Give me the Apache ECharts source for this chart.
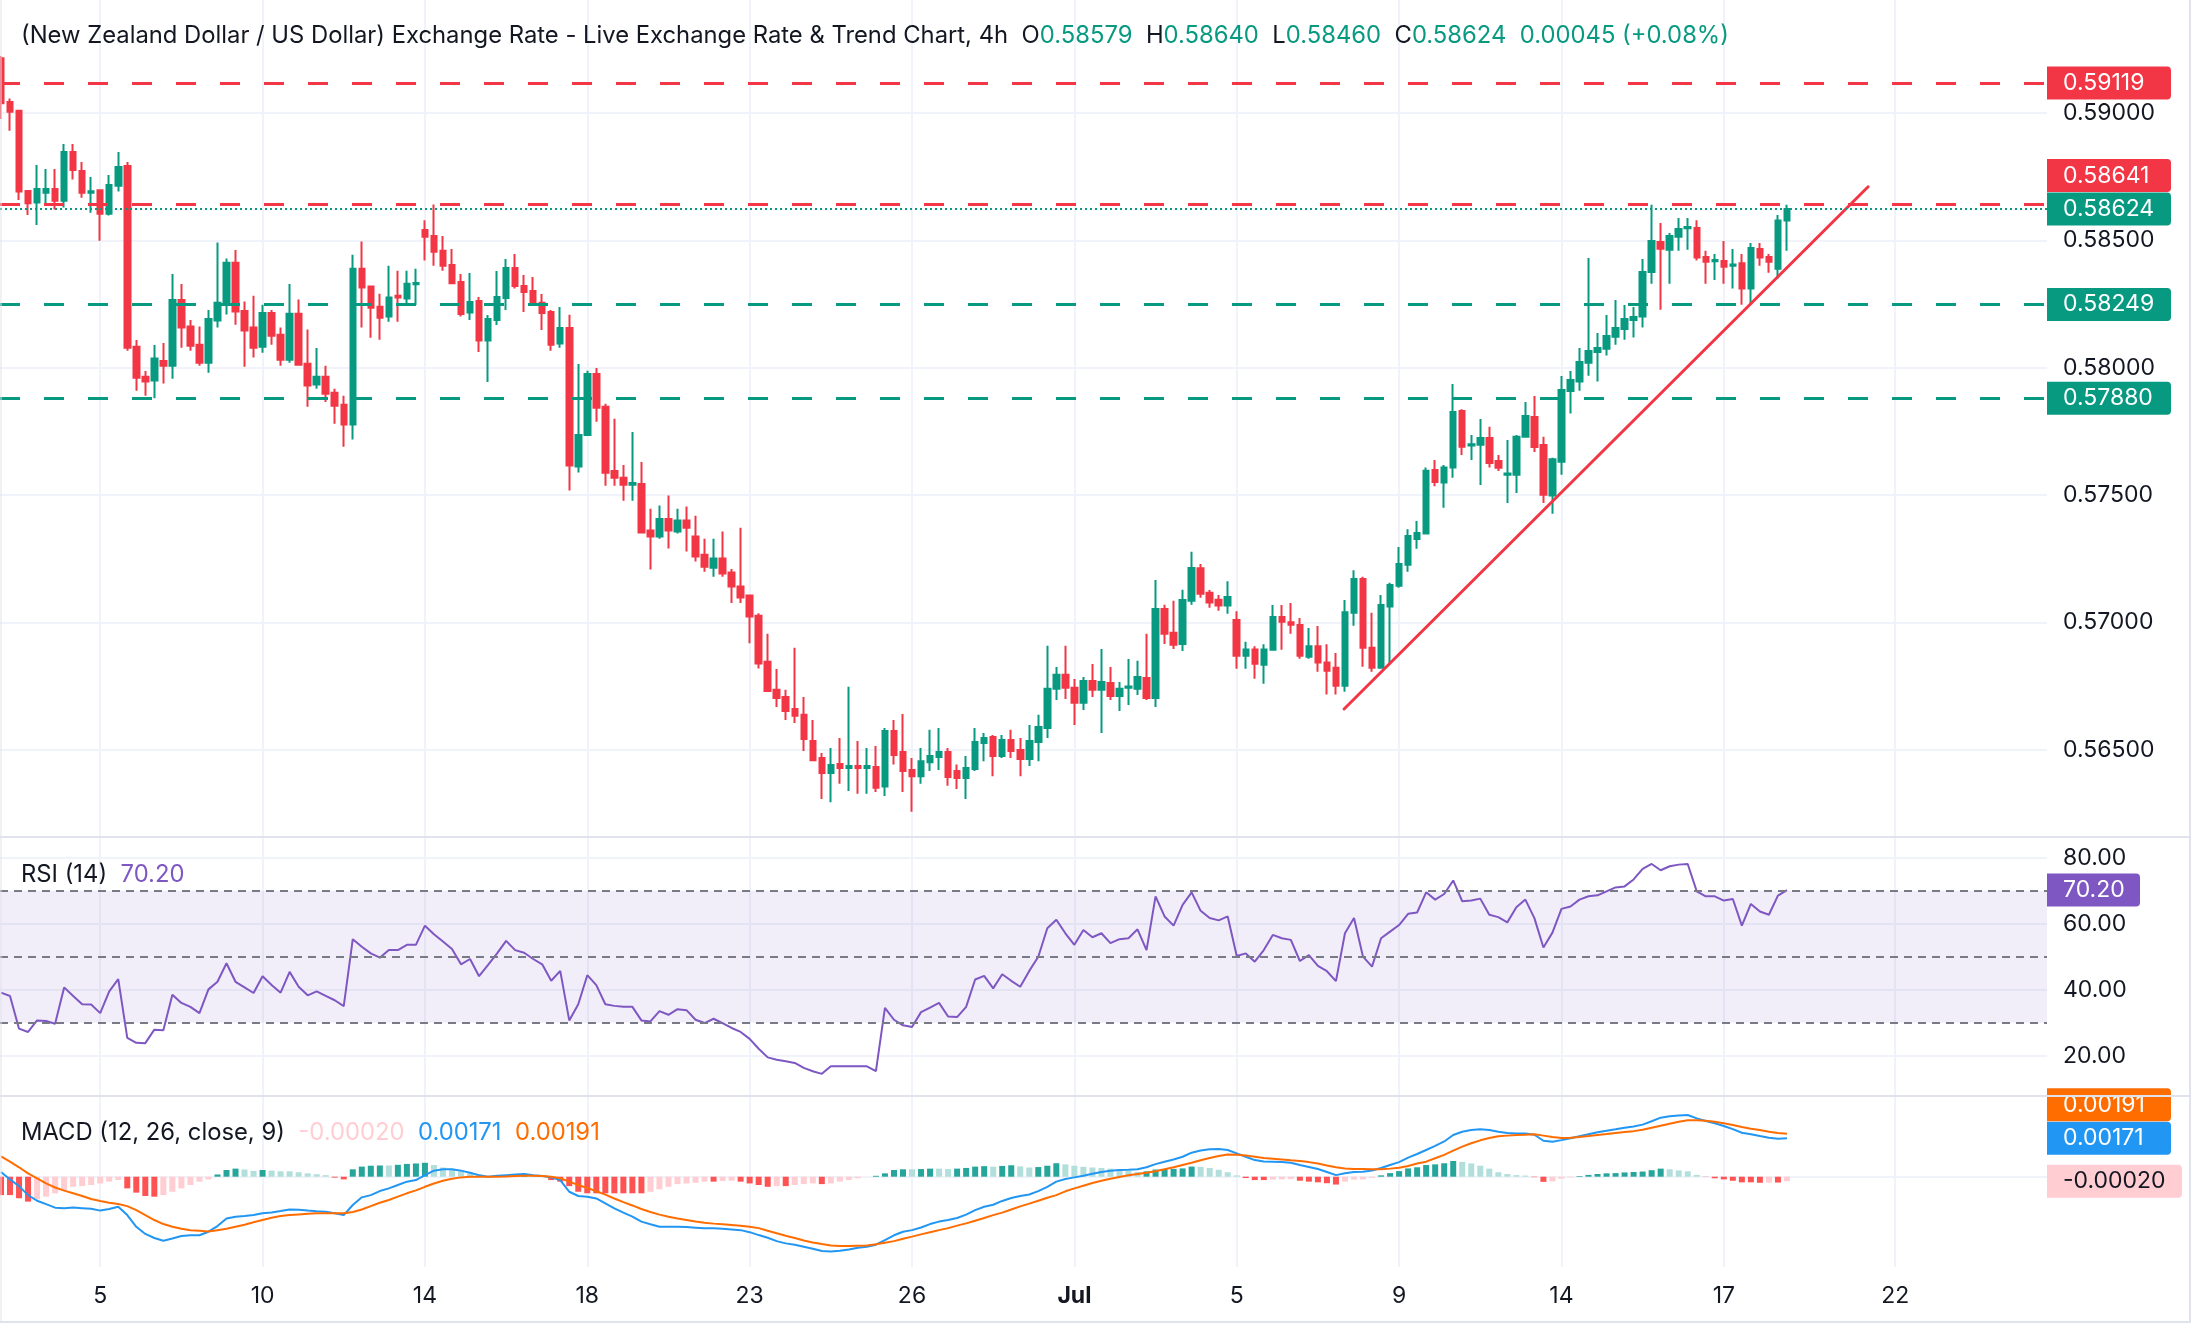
<!DOCTYPE html>
<html>
<head>
<meta charset="utf-8">
<title>NZD/USD 4h</title>
<script src="https://cdn.jsdelivr.net/npm/echarts@6/dist/echarts.min.js"></script>
<style>
  html, body { margin: 0; padding: 0; background: #fff; }
  #chart { width: 2192px; height: 1344px; }
</style>
</head>
<body>
<div id="chart"></div>
<script>
// candles, one row per 4h bar: open, close, low, high
const candles = [
  [0.59216,0.59039,0.58977,0.59225],[0.59044,0.59006,0.58931,0.59058],[0.59010,0.58692,0.58659,0.59013],[0.58694,0.58646,0.58600,0.58698],[0.58649,0.58702,0.58561,0.58797],
  [0.58688,0.58702,0.58646,0.58781],[0.58702,0.58656,0.58622,0.58781],[0.58656,0.58848,0.58630,0.58879],[0.58848,0.58777,0.58740,0.58879],[0.58773,0.58688,0.58668,0.58808],
  [0.58688,0.58693,0.58609,0.58749],[0.58697,0.58605,0.58499,0.58697],[0.58605,0.58718,0.58598,0.58757],[0.58715,0.58789,0.58692,0.58848],[0.58793,0.58079,0.58067,0.58808],
  [0.58083,0.57961,0.57910,0.58109],[0.57965,0.57946,0.57890,0.57987],[0.57950,0.58037,0.57880,0.58090],[0.58027,0.58008,0.57938,0.58097],[0.58008,0.58266,0.57957,0.58368],
  [0.58266,0.58158,0.58079,0.58329],[0.58162,0.58087,0.58067,0.58188],[0.58091,0.58020,0.58008,0.58162],[0.58020,0.58192,0.57981,0.58227],[0.58186,0.58255,0.58158,0.58492],
  [0.58248,0.58413,0.58209,0.58429],[0.58413,0.58221,0.58169,0.58463],[0.58223,0.58146,0.58004,0.58260],[0.58158,0.58079,0.58040,0.58283],[0.58083,0.58215,0.58059,0.58248],
  [0.58215,0.58126,0.58091,0.58227],[0.58130,0.58032,0.58008,0.58158],[0.58032,0.58212,0.58020,0.58329],[0.58212,0.58012,0.58008,0.58268],[0.58016,0.57930,0.57847,0.58150],
  [0.57934,0.57965,0.57918,0.58078],[0.57965,0.57898,0.57866,0.58008],[0.57902,0.57851,0.57780,0.57918],[0.57855,0.57777,0.57690,0.57890],[0.57777,0.58389,0.57718,0.58444],
  [0.58389,0.58315,0.58158,0.58496],[0.58319,0.58236,0.58118,0.58323],[0.58240,0.58197,0.58110,0.58291],[0.58201,0.58276,0.58181,0.58401],[0.58283,0.58276,0.58181,0.58381],
  [0.58272,0.58330,0.58253,0.58381],[0.58328,0.58333,0.58247,0.58389],[0.58541,0.58515,0.58421,0.58580],[0.58518,0.58456,0.58401,0.58641],[0.58460,0.58401,0.58381,0.58518],
  [0.58404,0.58332,0.58329,0.58467],[0.58337,0.58211,0.58201,0.58368],[0.58217,0.58258,0.58188,0.58372],[0.58262,0.58107,0.58062,0.58278],[0.58107,0.58192,0.57944,0.58207],
  [0.58188,0.58278,0.58168,0.58380],[0.58274,0.58392,0.58227,0.58427],[0.58392,0.58321,0.58311,0.58447],[0.58321,0.58298,0.58219,0.58364],[0.58302,0.58251,0.58247,0.58357],
  [0.58255,0.58215,0.58148,0.58290],[0.58219,0.58091,0.58067,0.58227],[0.58095,0.58156,0.58079,0.58239],[0.58156,0.57616,0.57518,0.58208],[0.57612,0.57736,0.57589,0.58015],
  [0.57736,0.57976,0.57736,0.57988],[0.57976,0.57843,0.57788,0.57999],[0.57847,0.57588,0.57537,0.57859],[0.57595,0.57568,0.57537,0.57800],[0.57568,0.57541,0.57478,0.57618],
  [0.57541,0.57548,0.57478,0.57748],[0.57544,0.57353,0.57349,0.57630],[0.57361,0.57337,0.57208,0.57446],[0.57337,0.57406,0.57329,0.57459],[0.57406,0.57361,0.57290,0.57498],
  [0.57357,0.57400,0.57349,0.57446],[0.57400,0.57372,0.57278,0.57455],[0.57337,0.57259,0.57239,0.57419],[0.57266,0.57219,0.57199,0.57329],[0.57215,0.57251,0.57179,0.57329],
  [0.57251,0.57192,0.57179,0.57357],[0.57196,0.57141,0.57076,0.57210],[0.57141,0.57098,0.57076,0.57372],[0.57106,0.57023,0.56918,0.57106],[0.57026,0.56839,0.56819,0.57036],
  [0.56845,0.56731,0.56727,0.56955],[0.56735,0.56703,0.56668,0.56817],[0.56707,0.56652,0.56617,0.56735],[0.56660,0.56633,0.56605,0.56900],[0.56637,0.56542,0.56495,0.56707],
  [0.56534,0.56459,0.56455,0.56617],[0.56467,0.56408,0.56306,0.56487],[0.56408,0.56440,0.56294,0.56507],[0.56444,0.56428,0.56366,0.56546],[0.56428,0.56436,0.56338,0.56747],
  [0.56436,0.56428,0.56327,0.56534],[0.56428,0.56436,0.56327,0.56507],[0.56432,0.56351,0.56334,0.56515],[0.56355,0.56573,0.56318,0.56585],[0.56573,0.56479,0.56442,0.56617],
  [0.56491,0.56416,0.56334,0.56640],[0.56420,0.56396,0.56256,0.56467],[0.56396,0.56455,0.56366,0.56507],[0.56451,0.56475,0.56416,0.56578],[0.56471,0.56491,0.56420,0.56585],
  [0.56491,0.56393,0.56358,0.56507],[0.56416,0.56389,0.56346,0.56442],[0.56389,0.56428,0.56306,0.56475],[0.56424,0.56530,0.56416,0.56585],[0.56526,0.56546,0.56455,0.56566],
  [0.56550,0.56475,0.56396,0.56558],[0.56475,0.56538,0.56467,0.56558],[0.56538,0.56495,0.56467,0.56578],[0.56499,0.56463,0.56396,0.56546],[0.56463,0.56534,0.56436,0.56597],
  [0.56530,0.56589,0.56455,0.56637],[0.56585,0.56739,0.56546,0.56908],[0.56739,0.56794,0.56695,0.56825],[0.56794,0.56743,0.56699,0.56908],[0.56743,0.56684,0.56597,0.56778],
  [0.56684,0.56770,0.56656,0.56786],[0.56770,0.56735,0.56707,0.56837],[0.56735,0.56766,0.56566,0.56896],[0.56762,0.56711,0.56695,0.56825],[0.56711,0.56739,0.56652,0.56766],
  [0.56743,0.56748,0.56676,0.56856],[0.56739,0.56786,0.56715,0.56849],[0.56782,0.56703,0.56695,0.56955],[0.56703,0.57053,0.56668,0.57167],[0.57053,0.56955,0.56915,0.57069],
  [0.56959,0.56912,0.56896,0.57085],[0.56915,0.57088,0.56888,0.57128],[0.57085,0.57214,0.57069,0.57277],[0.57213,0.57113,0.57097,0.57229],[0.57116,0.57078,0.57058,0.57127],
  [0.57089,0.57066,0.57046,0.57108],[0.57066,0.57100,0.57034,0.57162],[0.57009,0.56869,0.56818,0.57044],[0.56869,0.56894,0.56818,0.56924],[0.56894,0.56838,0.56779,0.56906],
  [0.56834,0.56894,0.56759,0.56914],[0.56893,0.57021,0.56889,0.57068],[0.57021,0.57003,0.56893,0.57068],[0.57001,0.56991,0.56955,0.57076],[0.56990,0.56869,0.56857,0.57017],
  [0.56865,0.56906,0.56857,0.56978],[0.56906,0.56842,0.56806,0.56986],[0.56842,0.56810,0.56717,0.56914],[0.56822,0.56751,0.56717,0.56880],[0.56751,0.57040,0.56728,0.57088],
  [0.57038,0.57170,0.56987,0.57205],[0.57170,0.56900,0.56826,0.57179],[0.56900,0.56822,0.56806,0.57038],[0.56822,0.57068,0.56818,0.57108],[0.57062,0.57147,0.56838,0.57156],
  [0.57144,0.57229,0.57136,0.57296],[0.57226,0.57339,0.57199,0.57366],[0.57328,0.57351,0.57289,0.57398],[0.57349,0.57596,0.57349,0.57608],[0.57599,0.57551,0.57535,0.57638],
  [0.57549,0.57608,0.57450,0.57618],[0.57608,0.57826,0.57568,0.57936],[0.57830,0.57690,0.57657,0.57837],[0.57695,0.57700,0.57638,0.57736],[0.57698,0.57724,0.57540,0.57799],
  [0.57724,0.57626,0.57608,0.57768],[0.57634,0.57607,0.57595,0.57657],[0.57580,0.57585,0.57469,0.57716],[0.57580,0.57729,0.57508,0.57736],[0.57729,0.57811,0.57729,0.57866],
  [0.57807,0.57689,0.57669,0.57889],[0.57697,0.57501,0.57469,0.57729],[0.57498,0.57641,0.57427,0.57647],[0.57631,0.57913,0.57580,0.57968],[0.57909,0.57952,0.57820,0.57987],
  [0.57946,0.58023,0.57910,0.58078],[0.58020,0.58066,0.57969,0.58431],[0.58062,0.58078,0.57946,0.58137],[0.58075,0.58125,0.58048,0.58207],[0.58122,0.58156,0.58091,0.58266],
  [0.58152,0.58192,0.58110,0.58247],[0.58188,0.58200,0.58119,0.58239],[0.58201,0.58376,0.58158,0.58427],[0.58376,0.58498,0.58330,0.58640],[0.58494,0.58468,0.58228,0.58569],
  [0.58464,0.58518,0.58330,0.58529],[0.58515,0.58545,0.58460,0.58588],[0.58548,0.58553,0.58464,0.58588],[0.58549,0.58433,0.58421,0.58580],[0.58435,0.58417,0.58330,0.58460],
  [0.58418,0.58423,0.58345,0.58447],[0.58419,0.58397,0.58330,0.58498],[0.58401,0.58406,0.58311,0.58467],[0.58411,0.58311,0.58248,0.58447],[0.58311,0.58471,0.58248,0.58490],
  [0.58467,0.58433,0.58401,0.58490],[0.58435,0.58417,0.58373,0.58447],[0.58389,0.58579,0.58350,0.58600],[0.58579,0.58624,0.58460,0.58640]
];

const rsi = [
  39.1, 38.1, 28.2, 27.2, 30.7, 30.5, 29.7, 40.7, 38.1, 35.6,
  35.5, 32.9, 39.5, 43.2, 25.4, 23.9, 23.8, 27.9, 27.7, 38.5,
  36.0, 34.8, 32.9, 40.1, 42.4, 48.0, 42.4, 40.7, 39.0, 44.1,
  41.4, 39.1, 45.4, 40.9, 38.3, 39.5, 38.1, 36.8, 35.0, 55.3,
  53.0, 51.0, 49.7, 52.0, 52.0, 53.6, 53.6, 59.4, 56.8, 54.6,
  52.3, 47.7, 49.3, 44.1, 47.5, 51.0, 54.8, 52.0, 51.2, 49.3,
  47.7, 42.7, 45.7, 30.7, 35.6, 44.4, 41.4, 35.6, 35.1, 34.8,
  34.8, 30.7, 30.4, 33.5, 32.4, 34.1, 33.8, 30.9, 29.9, 31.2,
  29.9, 28.4, 27.2, 25.1, 22.1, 19.5, 18.8, 18.3, 17.8, 16.3,
  15.3, 14.5, 16.8, 16.8, 16.8, 16.8, 16.8, 15.3, 34.5, 30.9,
  29.2, 28.7, 33.2, 34.6, 36.0, 31.9, 31.7, 34.8, 43.1, 44.2,
  40.4, 44.7, 42.7, 40.9, 45.7, 50.0, 58.6, 61.2, 57.1, 53.6,
  58.1, 55.9, 57.1, 54.1, 55.3, 55.6, 58.3, 52.0, 68.3, 62.2,
  59.4, 65.7, 69.5, 63.9, 61.7, 61.0, 62.2, 50.2, 51.0, 48.5,
  52.0, 56.6, 55.6, 55.1, 48.7, 50.5, 47.2, 45.6, 42.6, 57.1,
  61.7, 50.0, 47.0, 55.6, 57.6, 59.6, 63.0, 63.4, 69.5, 67.3,
  69.0, 73.1, 66.8, 67.0, 67.6, 62.7, 62.0, 60.4, 65.0, 67.3,
  61.7, 52.8, 57.3, 64.5, 65.2, 67.3, 68.3, 68.6, 69.8, 71.0,
  71.3, 73.4, 76.6, 78.1, 76.2, 77.4, 77.9, 78.1, 69.8, 68.3,
  68.3, 67.0, 67.5, 59.4, 66.0, 63.7, 62.7, 68.5, 70.2
];

const macdLine = [
  0.00021, -0.00012, -0.00042, -0.00082, -0.00107, -0.00122, -0.00138, -0.00140, -0.00137, -0.00140,
  -0.00143, -0.00151, -0.00144, -0.00134, -0.00171, -0.00223, -0.00255, -0.00273, -0.00285, -0.00275,
  -0.00264, -0.00261, -0.00261, -0.00245, -0.00220, -0.00186, -0.00178, -0.00175, -0.00171, -0.00163,
  -0.00159, -0.00153, -0.00146, -0.00147, -0.00151, -0.00154, -0.00156, -0.00163, -0.00171, -0.00126,
  -0.00092, -0.00082, -0.00064, -0.00052, -0.00037, -0.00022, -0.00015, 0.00007, 0.00027, 0.00033,
  0.00033, 0.00027, 0.00018, 0.00007, 0.00000, 0.00004, 0.00007, 0.00010, 0.00012, 0.00007,
  0.00003, -0.00003, -0.00015, -0.00067, -0.00086, -0.00089, -0.00097, -0.00119, -0.00141, -0.00160,
  -0.00178, -0.00200, -0.00212, -0.00223, -0.00223, -0.00223, -0.00224, -0.00227, -0.00230, -0.00230,
  -0.00232, -0.00235, -0.00238, -0.00247, -0.00260, -0.00272, -0.00287, -0.00297, -0.00303, -0.00312,
  -0.00321, -0.00331, -0.00333, -0.00330, -0.00324, -0.00316, -0.00312, -0.00303, -0.00282, -0.00261,
  -0.00245, -0.00238, -0.00226, -0.00211, -0.00200, -0.00193, -0.00184, -0.00169, -0.00149, -0.00134,
  -0.00125, -0.00108, -0.00095, -0.00086, -0.00079, -0.00064, -0.00045, -0.00022, -0.00010, -0.00003,
  0.00004, 0.00013, 0.00021, 0.00027, 0.00030, 0.00031, 0.00033, 0.00042, 0.00056, 0.00067,
  0.00077, 0.00089, 0.00107, 0.00117, 0.00122, 0.00123, 0.00119, 0.00104, 0.00089, 0.00074,
  0.00068, 0.00067, 0.00065, 0.00062, 0.00052, 0.00043, 0.00034, 0.00021, 0.00007, 0.00015,
  0.00021, 0.00022, 0.00028, 0.00039, 0.00052, 0.00065, 0.00085, 0.00101, 0.00119, 0.00137,
  0.00157, 0.00186, 0.00200, 0.00208, 0.00211, 0.00208, 0.00200, 0.00195, 0.00193, 0.00192,
  0.00187, 0.00160, 0.00156, 0.00163, 0.00171, 0.00180, 0.00189, 0.00198, 0.00205, 0.00211,
  0.00218, 0.00224, 0.00232, 0.00247, 0.00263, 0.00269, 0.00273, 0.00275, 0.00260, 0.00248,
  0.00238, 0.00226, 0.00212, 0.00196, 0.00189, 0.00181, 0.00174, 0.00169, 0.00171
];

const signalLine = [
  0.00091, 0.00067, 0.00042, 0.00015, -0.00007, -0.00030, -0.00048, -0.00062, -0.00074, -0.00086,
  -0.00099, -0.00108, -0.00116, -0.00122, -0.00131, -0.00149, -0.00171, -0.00193, -0.00211, -0.00223,
  -0.00232, -0.00238, -0.00241, -0.00244, -0.00238, -0.00232, -0.00223, -0.00214, -0.00203, -0.00193,
  -0.00183, -0.00175, -0.00171, -0.00168, -0.00165, -0.00163, -0.00163, -0.00163, -0.00163, -0.00157,
  -0.00146, -0.00131, -0.00116, -0.00104, -0.00089, -0.00074, -0.00061, -0.00045, -0.00030, -0.00018,
  -0.00009, -0.00003, 0.00000, 0.00000, 0.00000, 0.00000, 0.00001, 0.00003, 0.00004, 0.00004,
  0.00003, 0.00000, -0.00007, -0.00022, -0.00037, -0.00050, -0.00065, -0.00080, -0.00097, -0.00113,
  -0.00128, -0.00144, -0.00157, -0.00169, -0.00178, -0.00186, -0.00193, -0.00200, -0.00205, -0.00209,
  -0.00212, -0.00215, -0.00218, -0.00223, -0.00229, -0.00241, -0.00252, -0.00263, -0.00273, -0.00284,
  -0.00293, -0.00300, -0.00306, -0.00309, -0.00309, -0.00307, -0.00306, -0.00301, -0.00294, -0.00287,
  -0.00276, -0.00267, -0.00257, -0.00247, -0.00238, -0.00229, -0.00218, -0.00208, -0.00196, -0.00184,
  -0.00171, -0.00160, -0.00146, -0.00132, -0.00120, -0.00107, -0.00094, -0.00082, -0.00065, -0.00052,
  -0.00040, -0.00028, -0.00018, -0.00009, -0.00001, 0.00006, 0.00012, 0.00018, 0.00024, 0.00033,
  0.00042, 0.00052, 0.00062, 0.00073, 0.00083, 0.00092, 0.00099, 0.00098, 0.00095, 0.00089,
  0.00083, 0.00080, 0.00077, 0.00073, 0.00070, 0.00065, 0.00059, 0.00050, 0.00042, 0.00037,
  0.00034, 0.00034, 0.00033, 0.00033, 0.00036, 0.00040, 0.00048, 0.00059, 0.00067, 0.00082,
  0.00097, 0.00116, 0.00134, 0.00149, 0.00162, 0.00172, 0.00180, 0.00183, 0.00186, 0.00187,
  0.00189, 0.00183, 0.00177, 0.00172, 0.00174, 0.00177, 0.00181, 0.00186, 0.00190, 0.00195,
  0.00199, 0.00203, 0.00209, 0.00218, 0.00227, 0.00236, 0.00245, 0.00251, 0.00252, 0.00249,
  0.00245, 0.00238, 0.00230, 0.00221, 0.00214, 0.00208, 0.00200, 0.00195, 0.00191
];

const histogram = [
  -0.00082, -0.00082, -0.00096, -0.00111, -0.00101, -0.00089, -0.00074, -0.00059, -0.00045, -0.00042,
  -0.00037, -0.00030, -0.00022, -0.00015, -0.00052, -0.00071, -0.00086, -0.00089, -0.00082, -0.00067,
  -0.00052, -0.00037, -0.00022, -0.00012, 0.00010, 0.00030, 0.00036, 0.00032, 0.00026, 0.00030,
  0.00027, 0.00024, 0.00024, 0.00020, 0.00015, 0.00011, 0.00007, -0.00004, -0.00012, 0.00033,
  0.00045, 0.00049, 0.00050, 0.00050, 0.00053, 0.00057, 0.00059, 0.00062, 0.00052, 0.00041,
  0.00030, 0.00022, 0.00015, 0.00010, 0.00000, 0.00004, 0.00006, 0.00007, 0.00008, 0.00003,
  -0.00001, -0.00015, -0.00022, -0.00042, -0.00067, -0.00074, -0.00074, -0.00074, -0.00074, -0.00074,
  -0.00074, -0.00074, -0.00067, -0.00056, -0.00045, -0.00033, -0.00030, -0.00027, -0.00022, -0.00022,
  -0.00019, -0.00018, -0.00022, -0.00030, -0.00037, -0.00045, -0.00042, -0.00042, -0.00037, -0.00033,
  -0.00030, -0.00033, -0.00030, -0.00022, -0.00015, -0.00007, 0.00000, 0.00004, 0.00015, 0.00030,
  0.00033, 0.00033, 0.00034, 0.00036, 0.00036, 0.00034, 0.00036, 0.00039, 0.00045, 0.00047,
  0.00045, 0.00048, 0.00051, 0.00046, 0.00041, 0.00043, 0.00049, 0.00060, 0.00055, 0.00049,
  0.00044, 0.00041, 0.00039, 0.00036, 0.00031, 0.00025, 0.00021, 0.00024, 0.00032, 0.00034,
  0.00035, 0.00037, 0.00045, 0.00044, 0.00039, 0.00031, 0.00020, 0.00006, -0.00006, -0.00015,
  -0.00015, -0.00013, -0.00012, -0.00011, -0.00018, -0.00022, -0.00025, -0.00029, -0.00035, -0.00022,
  -0.00013, -0.00012, -0.00005, 0.00006, 0.00016, 0.00025, 0.00037, 0.00042, 0.00052, 0.00055,
  0.00060, 0.00070, 0.00066, 0.00059, 0.00049, 0.00036, 0.00020, 0.00012, 0.00007, 0.00005,
  -0.00002, -0.00023, -0.00021, -0.00009, -0.00003, 0.00003, 0.00008, 0.00012, 0.00015, 0.00016,
  0.00019, 0.00021, 0.00023, 0.00029, 0.00036, 0.00033, 0.00028, 0.00024, 0.00008, -0.00001,
  -0.00007, -0.00012, -0.00018, -0.00025, -0.00025, -0.00027, -0.00026, -0.00026, -0.00020
];

// date labels sit on these bar positions
const tickIdx = [11, 29, 47, 65, 83, 101, 119, 137, 155, 173, 191, 210];
const tickText = ['5', '10', '14', '18', '23', '26', 'Jul', '5', '9', '14', '17', '22'];
const priceTicks = [0.565, 0.570, 0.575, 0.580, 0.585, 0.590];
const rsiTicks = [20, 40, 60, 80];
const rsiLevels = [70, 50, 30];

const resistance = [0.59119, 0.58641];
const support = [0.58249, 0.57880];
const lastPrice = 0.58624;
const trendLine = [[148.9, 0.56660], [207.0, 0.58711]];
const legend = { open: '0.58579', high: '0.58640', low: '0.58460', close: '0.58624', change: '0.00045 (+0.08%)' };
const lastRsi = 70.20;
const lastMacd = 0.00171, lastSignal = 0.00191, lastHist = -0.00020;

const FONT = 'Inter, "Noto Sans", Roboto, sans-serif';
const TEXT = '#131722';
const UP = '#089981';
const DOWN = '#F23645';
const GRID_LINE = '#f0f3fa';
const BORDER = '#e0e3eb';
const RSI_COLOR = '#7E57C2';
const MACD_COLOR = '#2196F3';
const SIGNAL_COLOR = '#FF6D00';
const NO_LINE = { color: 'rgba(0,0,0,0)', width: 1 };

const chart = echarts.init(document.getElementById('chart'))

function tagLabel(bg, fg, width, decimals, lift) {
  return {
    show: true,
    position: 'end',
    distance: 0,
    formatter: p => `{t|${Number(p.value).toFixed(decimals)}}` + (lift ? '\n{s| }' : ''),
    rich: {
      t: {
        backgroundColor: bg, color: fg, fontFamily: FONT, fontSize: 23, lineHeight: 23,
        padding: [5, 11, 5, 16], width, borderRadius: [0, 4, 4, 0],
      },
      s: { height: (lift || 0) * 2, fontSize: 1 },
    },
  }
}

function level(value, color, lift) {
  return {
    yAxis: value,
    lineStyle: { color, width: 3, type: [20, 24] },
    label: tagLabel(color, '#fff', 97, 5, lift),
  }
}

function xAxis(gridIndex, showLabel) {
  return {
    type: 'value',
    gridIndex,
    min: -0.11,
    max: 226.83,
    axisLine: { show: false },
    axisTick: { show: false, customValues: tickIdx },
    axisLabel: {
      show: showLabel,
      customValues: tickIdx,
      margin: 18,
      color: TEXT,
      fontFamily: FONT,
      fontSize: 23,
      formatter: v => {
        const t = tickText[tickIdx.indexOf(v)] || ''
        return t === 'Jul' ? '{b|Jul}' : t
      },
      rich: { b: { fontWeight: 'bold', fontFamily: FONT, fontSize: 23, color: TEXT } },
    },
    splitLine: { show: true, lineStyle: { color: GRID_LINE, width: 2 } },
  }
}

function yAxis(gridIndex, min, max, ticks, decimals, showLabel) {
  return {
    type: 'value',
    gridIndex,
    position: 'right',
    min,
    max,
    axisLine: { show: false },
    axisTick: { show: false, customValues: ticks },
    axisLabel: {
      show: showLabel,
      customValues: ticks,
      margin: 16,
      color: TEXT,
      fontFamily: FONT,
      fontSize: 23,
      formatter: v => v.toFixed(decimals),
    },
    splitLine: { show: true, lineStyle: { color: GRID_LINE, width: 2 } },
  }
}

function histColor(i) {
  const v = histogram[i]
  const prev = i > 0 ? histogram[i - 1] : v
  if (v >= 0) return prev < v ? '#26A69A' : '#B2DFDB'
  return prev < v ? '#FFCDD2' : '#FF5252'
}

const txt = color => ({ color, fontFamily: FONT, fontSize: 23.8, lineHeight: 28, fontWeight: 'normal' })
const rich = {
  d: txt(TEXT),
  g: txt(UP),
  p: txt(RSI_COLOR),
  h: txt('#FFCDD2'),
  b: txt(MACD_COLOR),
  o: txt(SIGNAL_COLOR),
}
const titleStyle = { rich, fontWeight: 'normal', fontFamily: FONT, fontSize: 24 }

const option = {
  backgroundColor: '#fff',
  animation: false,
  title: [
    {
      left: 16,
      top: 17,
      text:
        '{d|(New Zealand Dollar / US Dollar) Exchange Rate - Live Exchange Rate & Trend Chart, 4h}  ' +
        `{d|O}{g|${legend.open}}  {d|H}{g|${legend.high}}  {d|L}{g|${legend.low}}  {d|C}{g|${legend.close}}  {g|${legend.change}}`,
      textStyle: titleStyle,
    },
    {
      left: 16,
      top: 856,
      text: `{d|RSI (14)}  {p|${lastRsi.toFixed(2)}}`,
      textStyle: titleStyle,
    },
    {
      left: 16,
      top: 1114,
      text: `{d|MACD (12, 26, close, 9)}  {h|${lastHist.toFixed(5)}}  {b|${lastMacd.toFixed(5)}}  {o|${lastSignal.toFixed(5)}}`,
      textStyle: titleStyle,
    },
  ],
  grid: [
    { left: 0, width: 2047, top: 0, height: 837 },
    { left: 0, width: 2047, top: 837, height: 259 },
    { left: 0, width: 2047, top: 1096, height: 171 },
  ],
  xAxis: [xAxis(0, false), xAxis(1, false), xAxis(2, true)],
  yAxis: [
    yAxis(0, 0.561571, 0.594446, priceTicks, 5, true),
    yAxis(1, 7.79, 86.27, rsiTicks, 2, true),
    yAxis(2, -0.004022, 0.003595, [0], 5, false),
  ],
  graphic: [
    { type: 'line', silent: true, z: 100, shape: { x1: 0, y1: 837, x2: 2190, y2: 837 }, style: { stroke: BORDER, lineWidth: 2 } },
    { type: 'line', silent: true, z: 100, shape: { x1: 0, y1: 1096, x2: 2190, y2: 1096 }, style: { stroke: BORDER, lineWidth: 2 } },
    { type: 'line', silent: true, z: 100, shape: { x1: 0, y1: 1322, x2: 2191, y2: 1322 }, style: { stroke: BORDER, lineWidth: 2 } },
    { type: 'line', silent: true, z: 100, shape: { x1: 2190, y1: 0, x2: 2190, y2: 1322 }, style: { stroke: BORDER, lineWidth: 2 } },
    { type: 'line', silent: true, z: 100, shape: { x1: 1, y1: 0, x2: 1, y2: 1322 }, style: { stroke: BORDER, lineWidth: 1 } },
  ],
  series: [
    {
      name: 'NZDUSD',
      type: 'candlestick',
      xAxisIndex: 0,
      yAxisIndex: 0,
      barWidth: 6,
      data: candles.map((c, i) => [i, c[0], c[1], c[2], c[3]]),
      itemStyle: { color: UP, color0: DOWN, borderColor: UP, borderColor0: DOWN, borderWidth: 2 },
      markLine: {
        silent: true,
        symbol: ['none', 'none'],
        precision: 6,
        animation: false,
        data: [
          level(resistance[0], DOWN),
          level(support[0], UP),
          level(support[1], UP),
          {
            yAxis: lastPrice,
            lineStyle: { color: UP, width: 2, type: [2, 3] },
            label: { show: false },
          },
          level(resistance[1], DOWN, 29),
          {
            yAxis: lastPrice,
            lineStyle: NO_LINE,
            label: tagLabel(UP, '#fff', 97, 5),
          },
        ],
      },
    },
    {
      name: 'trend',
      type: 'line',
      xAxisIndex: 0,
      yAxisIndex: 0,
      data: trendLine,
      symbol: 'none',
      lineStyle: { color: DOWN, width: 3, cap: 'round' },
      z: 3,
    },
    {
      name: 'RSI',
      type: 'line',
      xAxisIndex: 1,
      yAxisIndex: 1,
      data: rsi.map((v, i) => [i, v]),
      symbol: 'none',
      lineStyle: { color: RSI_COLOR, width: 2 },
      markArea: {
        silent: true,
        itemStyle: { color: 'rgba(126, 87, 194, 0.1)' },
        data: [[{ yAxis: rsiLevels[2] }, { yAxis: rsiLevels[0] }]],
      },
      markLine: {
        silent: true,
        symbol: ['none', 'none'],
        precision: 4,
        animation: false,
        lineStyle: { color: '#787b86', width: 2, type: [8, 6] },
        label: { show: false },
        data: [
          ...rsiLevels.map(v => ({ yAxis: v })),
          { yAxis: lastRsi, lineStyle: NO_LINE, label: tagLabel(RSI_COLOR, '#fff', 66, 2) },
        ],
      },
    },
    {
      name: 'Histogram',
      type: 'bar',
      xAxisIndex: 2,
      yAxisIndex: 2,
      barWidth: 6,
      data: histogram.map((v, i) => ({ value: [i, v], itemStyle: { color: histColor(i) } })),
      markLine: {
        silent: true,
        symbol: ['none', 'none'],
        precision: 6,
        animation: false,
        data: [{ yAxis: lastHist, lineStyle: NO_LINE, label: tagLabel('#FFCDD2', TEXT, 108, 5) }],
      },
    },
    {
      name: 'MACD',
      type: 'line',
      xAxisIndex: 2,
      yAxisIndex: 2,
      data: macdLine.map((v, i) => [i, v]),
      symbol: 'none',
      lineStyle: { color: MACD_COLOR, width: 2 },
      markLine: {
        silent: true,
        symbol: ['none', 'none'],
        precision: 6,
        animation: false,
        data: [{ yAxis: lastMacd, lineStyle: NO_LINE, label: tagLabel(MACD_COLOR, '#fff', 97, 5) }],
      },
    },
    {
      name: 'Signal',
      type: 'line',
      xAxisIndex: 2,
      yAxisIndex: 2,
      data: signalLine.map((v, i) => [i, v]),
      symbol: 'none',
      lineStyle: { color: SIGNAL_COLOR, width: 2 },
      markLine: {
        silent: true,
        symbol: ['none', 'none'],
        precision: 6,
        animation: false,
        data: [{ yAxis: lastSignal, lineStyle: NO_LINE, label: tagLabel(SIGNAL_COLOR, '#fff', 97, 5, 29) }],
      },
    },
  ],
}

chart.setOption(option)
</script>
</body>
</html>
